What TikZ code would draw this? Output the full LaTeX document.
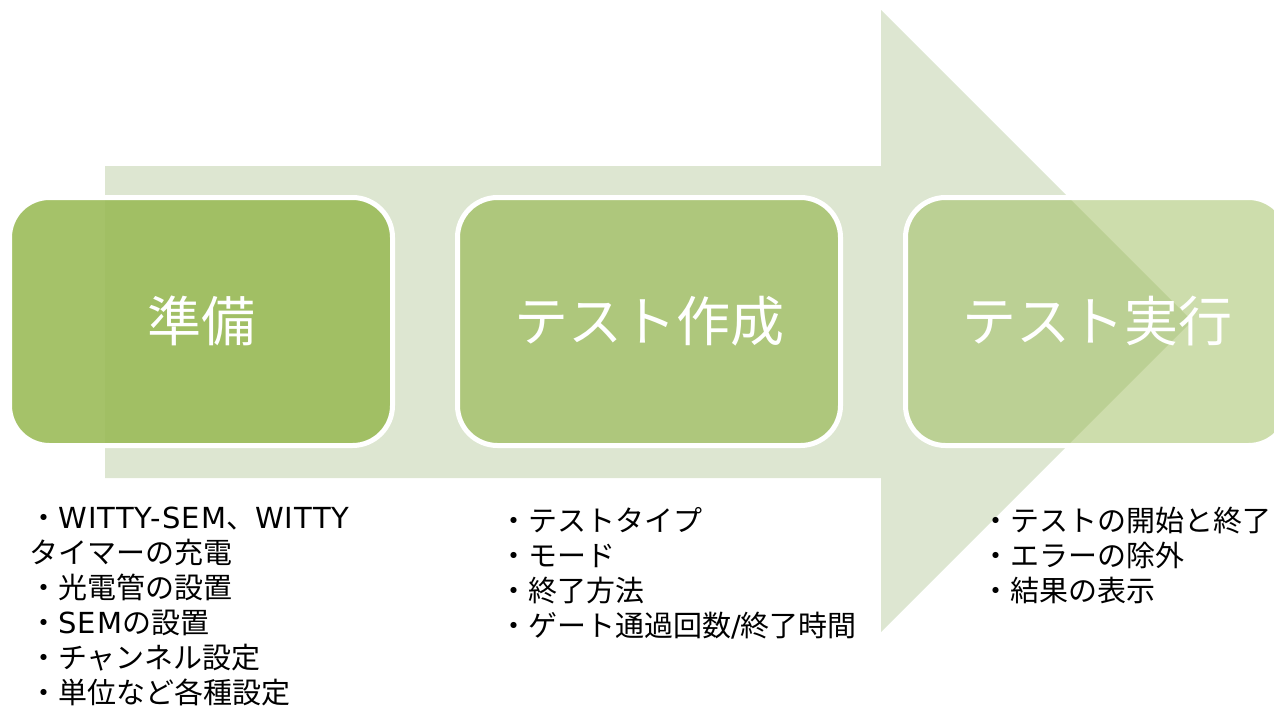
\documentclass[tikz,border=0pt]{standalone}
\usepackage{fontspec}
\setmainfont{Noto Sans CJK JP}
\newfontfamily\lat[LetterSpace=4]{DejaVu Sans}
\definecolor{arrowfill}{RGB}{221,230,209}
\definecolor{stagegreen}{HTML}{9BBB59}
\begin{document}
\begin{tikzpicture}[x=1pt,y=-1pt,
  stage/.style={draw=white, line width=5pt, fill=stagegreen, rounded corners=40pt,
    minimum width=383pt, minimum height=248pt, inner sep=0pt, text=white,
    font=\fontsize{54}{60}\selectfont},
  items/.style={anchor=north west, align=left, inner sep=0pt, text=black,
    font=\fontsize{29}{35}\selectfont}]
\useasboundingbox (0,0) rectangle (1274,707);
% big arrow
\fill[arrowfill] (105,166) -- (881,166) -- (881,10) -- (1192,321) -- (881,632)
  -- (881,478) -- (105,478) -- cycle;
% stages
\node[stage, fill opacity=0.9, text opacity=1] (s1) at (201,321.5) {\raisebox{5.5pt}{準備}};
\node[stage, fill opacity=0.7, text opacity=1] (s2) at (649,321.5) {\raisebox{5.5pt}{テスト作成}};
\node[stage, fill opacity=0.5, text opacity=1] (s3) at (1097,321.5) {\raisebox{5.5pt}{テスト実行}};
% item lists
\node[items] (l1) at (29,507) {・{\lat WITTY-SEM}、{\lat WITTY}\\タイマーの充電\\・光電管の設置\\・{\lat SEM}の設置\\・チャンネル設定\\・単位など各種設定};
\node[items] (l2) at (499,507) {・テストタイプ\\・モード\\・終了方法\\・ゲート通過回数{\lat /}終了時間};
\node[items] (l3) at (981,507) {・テストの開始と終了\\・エラーの除外\\・結果の表示};
\end{tikzpicture}
\end{document}
